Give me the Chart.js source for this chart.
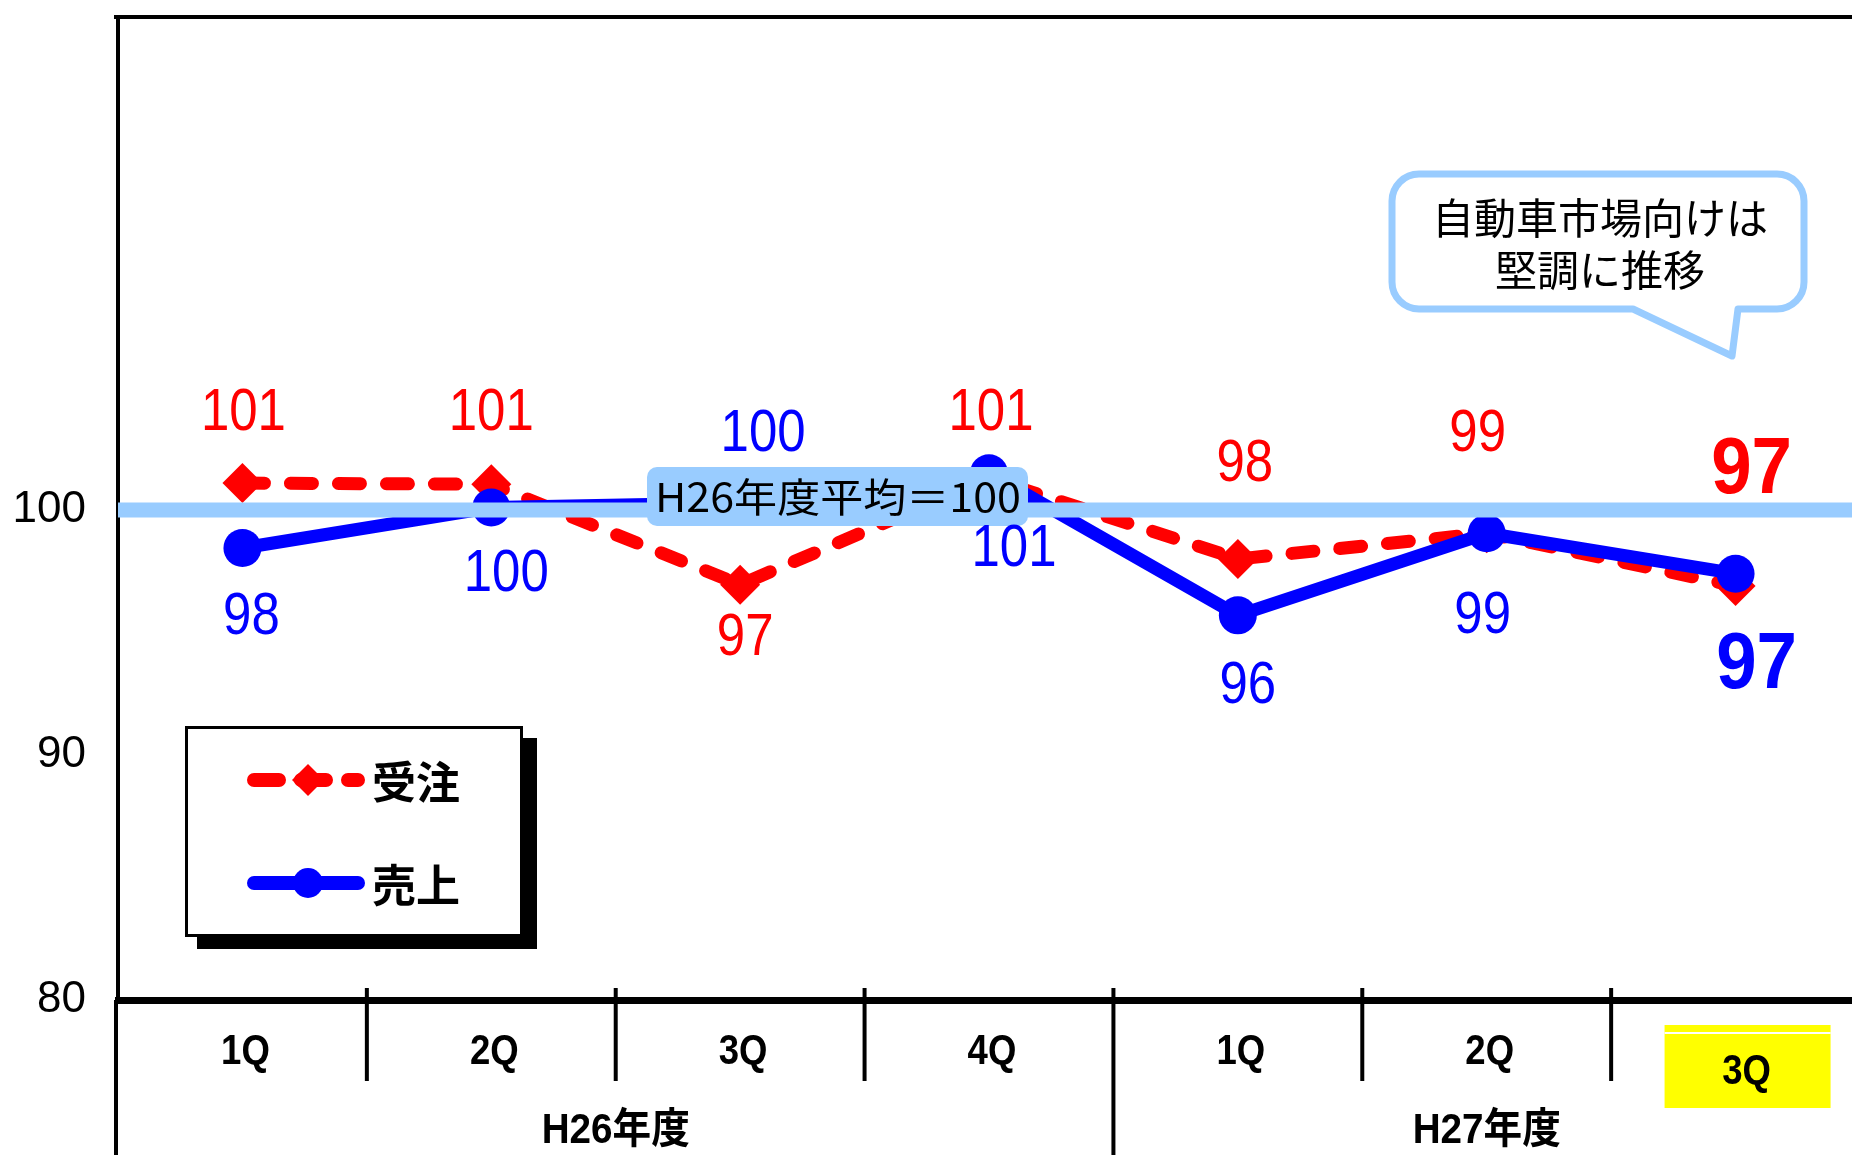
<!DOCTYPE html>
<html>
<head>
<meta charset="utf-8">
<script src="https://cdn.jsdelivr.net/npm/chart.js@4.4.0/dist/chart.umd.min.js"></script>
<style>
  html, body { margin: 0; padding: 0; background: #fff; overflow: hidden; }
  #wrap { width: 1880px; height: 1155px; }
</style>
</head>
<body>
<div id="wrap"><canvas id="grafico" width="1880" height="1155"></canvas></div>
<script>
// dados
const quarters = ['1Q', '2Q', '3Q', '4Q', '1Q', '2Q', '3Q'];
const years = ['H26年度', 'H27年度'];
const quartersPerYear = [4, 3];
const juchu = [101.1, 101.05, 96.95, 101.3, 98.0, 99.05, 96.9];
const uriage = [98.45, 100.1, 100.3, 101.5, 95.7, 99.05, 97.4];
const juchuLabels = ['101', '101', '97', '101', '98', '99', '97'];
const uriageLabels = ['98', '100', '100', '101', '96', '99', '97'];
const yTicks = [80, 90, 100];
const average = 100;
const seriesNames = ['受注', '売上'];
const averageText = 'H26年度平均＝100';
const noteLines = ['自動車市場向けは', '堅調に推移'];

const RED = '#FF0000';
const BLUE = '#0000FF';
const LIGHT = '#99CCFF';

// deslocamento dos rotulos em relacao ao ponto
const juchuOffset = [[1, -70], [0, -71], [5, 54], [2, -65], [7, -95], [-9, -99], [16, -115]];
const uriageOffset = [[9, 69], [15, 67], [23, -68], [25, 76], [10, 71], [-4, 83], [21, 93]];

function texto(ctx, str, x, y, font, cor, sx, align) {
  ctx.save();
  ctx.font = font;
  ctx.fillStyle = cor;
  ctx.textAlign = align || 'center';
  ctx.textBaseline = 'middle';
  ctx.translate(x, y);
  ctx.scale(sx || 1, 1);
  ctx.fillText(str, 0, 0);
  ctx.restore();
}

function textoLargura(ctx, str, x, y, font, cor, largura) {
  ctx.save();
  ctx.font = font;
  const w = ctx.measureText(str).width;
  ctx.restore();
  texto(ctx, str, x, y, font, cor, largura / w);
}

function retRedondo(ctx, l, t, r, b, rad) {
  ctx.beginPath();
  ctx.moveTo(l + rad, t);
  ctx.lineTo(r - rad, t);
  ctx.arcTo(r, t, r, t + rad, rad);
  ctx.lineTo(r, b - rad);
  ctx.arcTo(r, b, r - rad, b, rad);
  ctx.lineTo(l + rad, b);
  ctx.arcTo(l, b, l, b - rad, rad);
  ctx.lineTo(l, t + rad);
  ctx.arcTo(l, t, l + rad, t, rad);
  ctx.closePath();
}

function balao(ctx, l, t, r, b, rad, x1, x2, tx, ty) {
  ctx.beginPath();
  ctx.moveTo(l + rad, t);
  ctx.lineTo(r - rad, t);
  ctx.arcTo(r, t, r, t + rad, rad);
  ctx.lineTo(r, b - rad);
  ctx.arcTo(r, b, r - rad, b, rad);
  ctx.lineTo(x2, b);
  ctx.lineTo(tx, ty);
  ctx.lineTo(x1, b);
  ctx.lineTo(l + rad, b);
  ctx.arcTo(l, b, l, b - rad, rad);
  ctx.lineTo(l, t + rad);
  ctx.arcTo(l, t, l + rad, t, rad);
  ctx.closePath();
}

const extras = {
  id: 'extras',
  afterDatasetsDraw(chart) {
    const ctx = chart.ctx;
    const area = chart.chartArea;
    const ys = chart.scales.y;
    const W = chart.width;

    // linha da media
    const yMedia = ys.getPixelForValue(average);
    ctx.save();
    ctx.strokeStyle = LIGHT;
    ctx.lineWidth = 15;
    ctx.beginPath();
    ctx.moveTo(area.left, yMedia);
    ctx.lineTo(W, yMedia);
    ctx.stroke();

    // caixa da media
    ctx.fillStyle = LIGHT;
    retRedondo(ctx, 647, 467, 1028, 526, 10);
    ctx.fill();
    ctx.restore();
    textoLargura(ctx, averageText, 838, 497, "40px 'Noto Sans CJK JP'", '#000', 366);

    // rotulos dos pontos
    const series = [
      { meta: chart.getDatasetMeta(0), labels: juchuLabels, off: juchuOffset, cor: RED },
      { meta: chart.getDatasetMeta(1), labels: uriageLabels, off: uriageOffset, cor: BLUE }
    ];
    series.forEach(s => {
      s.meta.data.forEach((p, i) => {
        const big = i === s.meta.data.length - 1;
        const font = big ? "bold 79px 'Liberation Sans'" : "60px 'Liberation Sans'";
        texto(ctx, s.labels[i], p.x + s.off[i][0], p.y + s.off[i][1], font, s.cor, big ? 0.92 : 0.85);
      });
    });

    // legenda
    ctx.save();
    ctx.fillStyle = '#000';
    ctx.fillRect(197, 738, 340, 211);
    ctx.fillStyle = '#fff';
    ctx.fillRect(185, 726, 338, 211);
    ctx.strokeStyle = '#000';
    ctx.lineWidth = 3;
    ctx.strokeRect(186.5, 727.5, 335, 208);

    ctx.lineCap = 'round';
    ctx.lineWidth = 14;
    ctx.strokeStyle = RED;
    ctx.setLineDash([25, 22]);
    ctx.beginPath();
    ctx.moveTo(254, 780);
    ctx.lineTo(358, 780);
    ctx.stroke();
    ctx.setLineDash([]);
    ctx.fillStyle = RED;
    ctx.beginPath();
    ctx.moveTo(308, 764);
    ctx.lineTo(324, 780);
    ctx.lineTo(308, 796);
    ctx.lineTo(292, 780);
    ctx.closePath();
    ctx.fill();

    ctx.strokeStyle = BLUE;
    ctx.beginPath();
    ctx.moveTo(254, 883);
    ctx.lineTo(358, 883);
    ctx.stroke();
    ctx.fillStyle = BLUE;
    ctx.beginPath();
    ctx.arc(308, 883, 15, 0, Math.PI * 2);
    ctx.fill();
    ctx.restore();
    texto(ctx, seriesNames[0], 372, 782, "bold 44px 'Noto Sans CJK JP'", '#000', 1, 'left');
    texto(ctx, seriesNames[1], 372, 885, "bold 44px 'Noto Sans CJK JP'", '#000', 1, 'left');

    // balao
    ctx.save();
    ctx.fillStyle = '#fff';
    ctx.strokeStyle = LIGHT;
    ctx.lineWidth = 7;
    ctx.lineJoin = 'round';
    balao(ctx, 1392, 174, 1804, 309, 27, 1633, 1738, 1732, 356);
    ctx.fill();
    ctx.stroke();
    ctx.restore();
    texto(ctx, noteLines[0], 1600, 218, "42px 'Noto Sans CJK JP'", '#000');
    texto(ctx, noteLines[1], 1600, 270, "42px 'Noto Sans CJK JP'", '#000');
  },
  afterDraw(chart) {
    const ctx = chart.ctx;
    const area = chart.chartArea;
    const xs = chart.scales.x;
    const W = chart.width;
    const H = chart.height;

    ctx.save();
    ctx.strokeStyle = '#000';
    // borda superior
    ctx.lineWidth = 4;
    ctx.beginPath();
    ctx.moveTo(area.left - 4, area.top - 3);
    ctx.lineTo(W, area.top - 3);
    ctx.stroke();
    // eixo esquerdo ate o fim
    ctx.beginPath();
    ctx.moveTo(area.left - 2, area.bottom);
    ctx.lineTo(area.left - 2, H);
    ctx.stroke();

    // divisorias do eixo x
    const fimAno = quartersPerYear[0];
    for (let k = 1; k < quarters.length; k++) {
      const xb = (xs.getPixelForValue(k - 1) + xs.getPixelForValue(k)) / 2;
      ctx.beginPath();
      ctx.moveTo(xb, area.bottom - 12);
      ctx.lineTo(xb, k === fimAno ? H : 1081);
      ctx.stroke();
    }
    ctx.restore();

    // destaque do ultimo trimestre
    const last = quarters.length - 1;
    const xl = xs.getPixelForValue(last);
    ctx.save();
    ctx.fillStyle = '#FFFF00';
    ctx.fillRect(xl - 71, 1025, 166, 83);
    ctx.fillStyle = '#fff';
    ctx.fillRect(xl - 71, 1032, 166, 2);
    ctx.restore();

    quarters.forEach((q, i) => {
      const x = xs.getPixelForValue(i);
      if (i === last) {
        texto(ctx, q, x + 11, 1072, "bold 43px 'Liberation Sans'", '#000', 0.85);
      } else {
        texto(ctx, q, x + 3, 1052, "bold 43px 'Liberation Sans'", '#000', 0.85);
      }
    });

    // anos
    let inicio = 0;
    const larg = xs.width / quarters.length;
    years.forEach((a, j) => {
      const n = quartersPerYear[j];
      const x0 = xs.getPixelForValue(inicio) - larg / 2;
      const x1 = xs.getPixelForValue(inicio + n - 1) + larg / 2;
      texto(ctx, a, (x0 + x1) / 2, 1131, "bold 42px 'Liberation Sans', 'Noto Sans CJK JP'", '#000', 0.92);
      inicio += n;
    });
  }
};

const ctxGrafico = document.getElementById('grafico').getContext('2d');

const grafico = new Chart(ctxGrafico, {
  type: 'line',
  data: {
    labels: quarters,
    datasets: [
      {
        label: seriesNames[0],
        data: juchu,
        order: 2,
        borderColor: RED,
        backgroundColor: RED,
        borderWidth: 13,
        borderDash: [22, 26],
        borderCapStyle: 'round',
        borderJoinStyle: 'round',
        pointStyle: 'rectRot',
        pointRadius: 20,
        pointBorderWidth: 0,
        pointBackgroundColor: RED,
        tension: 0,
        fill: false
      },
      {
        label: seriesNames[1],
        data: uriage,
        order: 1,
        borderColor: BLUE,
        backgroundColor: BLUE,
        borderWidth: 13,
        borderCapStyle: 'round',
        borderJoinStyle: 'round',
        pointStyle: 'circle',
        pointRadius: 19,
        pointBorderWidth: 0,
        pointBackgroundColor: BLUE,
        tension: 0,
        fill: false
      }
    ]
  },
  options: {
    responsive: false,
    devicePixelRatio: 1,
    animation: false,
    layout: { padding: { top: 16, right: 20, left: 0, bottom: 0 } },
    plugins: {
      legend: { display: false },
      tooltip: { enabled: false }
    },
    scales: {
      x: {
        offset: true,
        grid: { display: false, drawTicks: false },
        border: { display: true, color: '#000', width: 7 },
        ticks: { display: false },
        afterFit(scale) {
          scale.height = 155;
          scale.paddingLeft = 0;
          scale.paddingRight = 0;
        }
      },
      y: {
        min: 80,
        max: 120,
        grid: { display: false, drawTicks: false },
        border: { display: true, color: '#000', width: 4 },
        afterBuildTicks(scale) { scale.ticks = yTicks.map(v => ({ value: v })); },
        ticks: {
          padding: 32,
          color: '#000',
          font: { family: "'Liberation Sans'", size: 44 }
        },
        afterFit(scale) {
          scale.width = 118;
          scale.paddingTop = 0;
          scale.paddingBottom = 0;
        }
      }
    }
  },
  plugins: [extras]
});
</script>
</body>
</html>
